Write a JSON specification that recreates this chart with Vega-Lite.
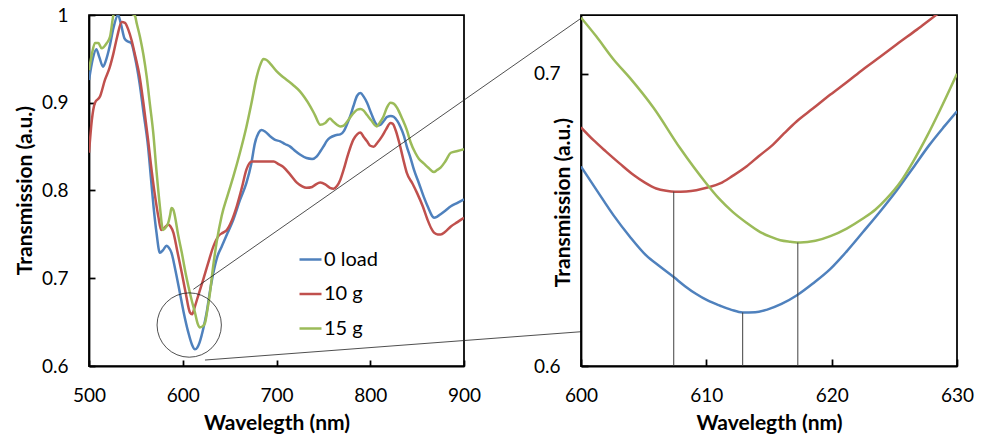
{
  "$schema": "https://vega.github.io/schema/vega-lite/v6.json",
  "background": "white",
  "padding": {"left": 13, "top": 5, "right": 5, "bottom": 5},
  "bounds": "flush",
  "spacing": 117,
  "config": {
    "view": {"stroke": "black", "strokeWidth": 1.75},
    "axis": {
      "grid": false,
      "domainColor": "black",
      "domainWidth": 1.75,
      "tickColor": "black",
      "tickWidth": 1.75,
      "labelFont": "Lato",
      "labelFontSize": 19,
      "labelColor": "black",
      "labelFlush": false,
      "labelOverlap": false,
      "labelBound": false,
      "titleFont": "Lato",
      "titleFontSize": 21,
      "titleFontWeight": "bold",
      "titleColor": "black"
    }
  },
  "resolve": {"legend": {"color": "independent"}},
  "datasets": {
    "full": [
      {"series":"0 load","wl":500,"t":0.926},{"series":"0 load","wl":504,"t":0.95},{"series":"0 load","wl":507.8,"t":0.961},{"series":"0 load","wl":511,"t":0.952},{"series":"0 load","wl":515,"t":0.941},{"series":"0 load","wl":518,"t":0.948},{"series":"0 load","wl":522,"t":0.964},{"series":"0 load","wl":526,"t":0.985},{"series":"0 load","wl":531,"t":1.0},{"series":"0 load","wl":534,"t":0.99},{"series":"0 load","wl":538,"t":0.973},{"series":"0 load","wl":541,"t":0.97},{"series":"0 load","wl":545,"t":0.968},{"series":"0 load","wl":549,"t":0.952},{"series":"0 load","wl":554,"t":0.922},{"series":"0 load","wl":558,"t":0.89},{"series":"0 load","wl":563,"t":0.85},{"series":"0 load","wl":566,"t":0.815},{"series":"0 load","wl":569,"t":0.78},{"series":"0 load","wl":572,"t":0.752},{"series":"0 load","wl":575.6,"t":0.729},{"series":"0 load","wl":579,"t":0.732},{"series":"0 load","wl":582.7,"t":0.737},{"series":"0 load","wl":585,"t":0.735},{"series":"0 load","wl":588,"t":0.729},{"series":"0 load","wl":592,"t":0.71},{"series":"0 load","wl":597,"t":0.683},{"series":"0 load","wl":601,"t":0.661},{"series":"0 load","wl":606,"t":0.638},{"series":"0 load","wl":610,"t":0.624},{"series":"0 load","wl":613,"t":0.619},{"series":"0 load","wl":615.5,"t":0.621},{"series":"0 load","wl":618,"t":0.627},{"series":"0 load","wl":622,"t":0.643},{"series":"0 load","wl":625.5,"t":0.661},{"series":"0 load","wl":629,"t":0.685},{"series":"0 load","wl":632.6,"t":0.706},{"series":"0 load","wl":637,"t":0.725},{"series":"0 load","wl":641.5,"t":0.736},{"series":"0 load","wl":648,"t":0.752},{"series":"0 load","wl":654,"t":0.767},{"series":"0 load","wl":661,"t":0.789},{"series":"0 load","wl":668,"t":0.809},{"series":"0 load","wl":673,"t":0.83},{"series":"0 load","wl":677,"t":0.854},{"series":"0 load","wl":681,"t":0.866},{"series":"0 load","wl":684,"t":0.869},{"series":"0 load","wl":688,"t":0.867},{"series":"0 load","wl":693,"t":0.862},{"series":"0 load","wl":698,"t":0.858},{"series":"0 load","wl":704,"t":0.856},{"series":"0 load","wl":709,"t":0.853},{"series":"0 load","wl":714.6,"t":0.85},{"series":"0 load","wl":720,"t":0.845},{"series":"0 load","wl":725,"t":0.841},{"series":"0 load","wl":732,"t":0.837},{"series":"0 load","wl":738,"t":0.836},{"series":"0 load","wl":743,"t":0.839},{"series":"0 load","wl":747,"t":0.845},{"series":"0 load","wl":750,"t":0.85},{"series":"0 load","wl":754,"t":0.857},{"series":"0 load","wl":757,"t":0.86},{"series":"0 load","wl":763,"t":0.863},{"series":"0 load","wl":768,"t":0.864},{"series":"0 load","wl":772,"t":0.868},{"series":"0 load","wl":775,"t":0.875},{"series":"0 load","wl":779,"t":0.886},{"series":"0 load","wl":782,"t":0.896},{"series":"0 load","wl":786,"t":0.908},{"series":"0 load","wl":789.5,"t":0.911},{"series":"0 load","wl":793,"t":0.907},{"series":"0 load","wl":796.6,"t":0.9},{"series":"0 load","wl":801,"t":0.888},{"series":"0 load","wl":805.5,"t":0.877},{"series":"0 load","wl":808,"t":0.874},{"series":"0 load","wl":811,"t":0.875},{"series":"0 load","wl":815,"t":0.88},{"series":"0 load","wl":818,"t":0.884},{"series":"0 load","wl":822,"t":0.885},{"series":"0 load","wl":825,"t":0.884},{"series":"0 load","wl":829,"t":0.879},{"series":"0 load","wl":832,"t":0.873},{"series":"0 load","wl":836,"t":0.862},{"series":"0 load","wl":839,"t":0.85},{"series":"0 load","wl":843,"t":0.837},{"series":"0 load","wl":846.5,"t":0.824},{"series":"0 load","wl":852,"t":0.808},{"series":"0 load","wl":857,"t":0.793},{"series":"0 load","wl":862,"t":0.78},{"series":"0 load","wl":866,"t":0.771},{"series":"0 load","wl":868,"t":0.769},{"series":"0 load","wl":871,"t":0.77},{"series":"0 load","wl":875,"t":0.773},{"series":"0 load","wl":880,"t":0.777},{"series":"0 load","wl":886,"t":0.782},{"series":"0 load","wl":893,"t":0.786},{"series":"0 load","wl":900,"t":0.79},
      {"series":"10 g","wl":500,"t":0.843},{"series":"10 g","wl":503,"t":0.88},{"series":"10 g","wl":506.4,"t":0.9},{"series":"10 g","wl":511.7,"t":0.907},{"series":"10 g","wl":517,"t":0.926},{"series":"10 g","wl":522,"t":0.94},{"series":"10 g","wl":526,"t":0.956},{"series":"10 g","wl":530,"t":0.975},{"series":"10 g","wl":534.9,"t":0.992},{"series":"10 g","wl":538.4,"t":0.991},{"series":"10 g","wl":542,"t":0.983},{"series":"10 g","wl":545.5,"t":0.971},{"series":"10 g","wl":549,"t":0.955},{"series":"10 g","wl":554,"t":0.93},{"series":"10 g","wl":558,"t":0.9},{"series":"10 g","wl":563,"t":0.858},{"series":"10 g","wl":566,"t":0.83},{"series":"10 g","wl":570,"t":0.797},{"series":"10 g","wl":574,"t":0.77},{"series":"10 g","wl":577,"t":0.755},{"series":"10 g","wl":580,"t":0.757},{"series":"10 g","wl":584.5,"t":0.761},{"series":"10 g","wl":587,"t":0.759},{"series":"10 g","wl":590,"t":0.752},{"series":"10 g","wl":594,"t":0.732},{"series":"10 g","wl":599,"t":0.706},{"series":"10 g","wl":603,"t":0.684},{"series":"10 g","wl":607.7,"t":0.661},{"series":"10 g","wl":610,"t":0.659},{"series":"10 g","wl":613,"t":0.668},{"series":"10 g","wl":617,"t":0.682},{"series":"10 g","wl":622,"t":0.699},{"series":"10 g","wl":627,"t":0.717},{"series":"10 g","wl":632.6,"t":0.736},{"series":"10 g","wl":638,"t":0.748},{"series":"10 g","wl":643,"t":0.752},{"series":"10 g","wl":647,"t":0.755},{"series":"10 g","wl":652,"t":0.765},{"series":"10 g","wl":657.6,"t":0.782},{"series":"10 g","wl":663,"t":0.803},{"series":"10 g","wl":668,"t":0.824},{"series":"10 g","wl":673.6,"t":0.833},{"series":"10 g","wl":685,"t":0.833},{"series":"10 g","wl":697,"t":0.833},{"series":"10 g","wl":702,"t":0.83},{"series":"10 g","wl":707,"t":0.827},{"series":"10 g","wl":714,"t":0.819},{"series":"10 g","wl":721.7,"t":0.809},{"series":"10 g","wl":727,"t":0.805},{"series":"10 g","wl":732,"t":0.803},{"series":"10 g","wl":738,"t":0.804},{"series":"10 g","wl":742,"t":0.807},{"series":"10 g","wl":746.7,"t":0.809},{"series":"10 g","wl":752,"t":0.807},{"series":"10 g","wl":757,"t":0.803},{"series":"10 g","wl":761,"t":0.802},{"series":"10 g","wl":764.5,"t":0.805},{"series":"10 g","wl":768,"t":0.812},{"series":"10 g","wl":771.7,"t":0.824},{"series":"10 g","wl":776,"t":0.84},{"series":"10 g","wl":782,"t":0.858},{"series":"10 g","wl":786,"t":0.864},{"series":"10 g","wl":789.5,"t":0.866},{"series":"10 g","wl":793,"t":0.861},{"series":"10 g","wl":796.6,"t":0.856},{"series":"10 g","wl":800,"t":0.851},{"series":"10 g","wl":803.7,"t":0.85},{"series":"10 g","wl":808,"t":0.855},{"series":"10 g","wl":812.7,"t":0.862},{"series":"10 g","wl":817,"t":0.87},{"series":"10 g","wl":821.6,"t":0.877},{"series":"10 g","wl":824,"t":0.876},{"series":"10 g","wl":827,"t":0.869},{"series":"10 g","wl":832,"t":0.85},{"series":"10 g","wl":836,"t":0.832},{"series":"10 g","wl":839,"t":0.82},{"series":"10 g","wl":845,"t":0.808},{"series":"10 g","wl":850,"t":0.797},{"series":"10 g","wl":856,"t":0.782},{"series":"10 g","wl":861,"t":0.767},{"series":"10 g","wl":865,"t":0.757},{"series":"10 g","wl":868,"t":0.752},{"series":"10 g","wl":872,"t":0.75},{"series":"10 g","wl":875,"t":0.75},{"series":"10 g","wl":880,"t":0.753},{"series":"10 g","wl":886,"t":0.759},{"series":"10 g","wl":893,"t":0.764},{"series":"10 g","wl":900,"t":0.769},
      {"series":"15 g","wl":500,"t":0.937},{"series":"15 g","wl":503,"t":0.955},{"series":"15 g","wl":506.4,"t":0.968},{"series":"15 g","wl":510,"t":0.968},{"series":"15 g","wl":513.5,"t":0.962},{"series":"15 g","wl":518.9,"t":0.968},{"series":"15 g","wl":522.4,"t":0.975},{"series":"15 g","wl":526,"t":1.0},{"series":"15 g","wl":530,"t":1.012},{"series":"15 g","wl":536,"t":1.018},{"series":"15 g","wl":542,"t":1.005},{"series":"15 g","wl":546,"t":1.001},{"series":"15 g","wl":549,"t":0.999},{"series":"15 g","wl":551,"t":0.99},{"series":"15 g","wl":554.4,"t":0.975},{"series":"15 g","wl":558,"t":0.955},{"series":"15 g","wl":561.5,"t":0.93},{"series":"15 g","wl":565,"t":0.898},{"series":"15 g","wl":568.6,"t":0.865},{"series":"15 g","wl":572,"t":0.822},{"series":"15 g","wl":575.6,"t":0.782},{"series":"15 g","wl":579,"t":0.755},{"series":"15 g","wl":582,"t":0.758},{"series":"15 g","wl":584.5,"t":0.763},{"series":"15 g","wl":586.5,"t":0.772},{"series":"15 g","wl":588,"t":0.78},{"series":"15 g","wl":590,"t":0.778},{"series":"15 g","wl":591.6,"t":0.771},{"series":"15 g","wl":595,"t":0.75},{"series":"15 g","wl":599,"t":0.729},{"series":"15 g","wl":603,"t":0.706},{"series":"15 g","wl":606,"t":0.691},{"series":"15 g","wl":610,"t":0.673},{"series":"15 g","wl":613,"t":0.661},{"series":"15 g","wl":616,"t":0.648},{"series":"15 g","wl":618,"t":0.644},{"series":"15 g","wl":621,"t":0.645},{"series":"15 g","wl":623.7,"t":0.649},{"series":"15 g","wl":626,"t":0.662},{"series":"15 g","wl":629,"t":0.683},{"series":"15 g","wl":632,"t":0.71},{"series":"15 g","wl":636,"t":0.74},{"series":"15 g","wl":641.5,"t":0.771},{"series":"15 g","wl":648,"t":0.795},{"series":"15 g","wl":654,"t":0.816},{"series":"15 g","wl":661,"t":0.843},{"series":"15 g","wl":668,"t":0.873},{"series":"15 g","wl":673,"t":0.898},{"series":"15 g","wl":679,"t":0.93},{"series":"15 g","wl":683,"t":0.944},{"series":"15 g","wl":686,"t":0.95},{"series":"15 g","wl":689,"t":0.949},{"series":"15 g","wl":693,"t":0.945},{"series":"15 g","wl":700,"t":0.936},{"series":"15 g","wl":705,"t":0.931},{"series":"15 g","wl":711,"t":0.926},{"series":"15 g","wl":718,"t":0.92},{"series":"15 g","wl":725,"t":0.913},{"series":"15 g","wl":730,"t":0.906},{"series":"15 g","wl":736,"t":0.896},{"series":"15 g","wl":741,"t":0.886},{"series":"15 g","wl":746.7,"t":0.875},{"series":"15 g","wl":752,"t":0.877},{"series":"15 g","wl":757,"t":0.882},{"series":"15 g","wl":760,"t":0.879},{"series":"15 g","wl":764.5,"t":0.875},{"series":"15 g","wl":768,"t":0.873},{"series":"15 g","wl":771.7,"t":0.874},{"series":"15 g","wl":777,"t":0.881},{"series":"15 g","wl":782,"t":0.888},{"series":"15 g","wl":786,"t":0.892},{"series":"15 g","wl":789.5,"t":0.893},{"series":"15 g","wl":793,"t":0.891},{"series":"15 g","wl":796.6,"t":0.886},{"series":"15 g","wl":801,"t":0.88},{"series":"15 g","wl":807,"t":0.873},{"series":"15 g","wl":810,"t":0.877},{"series":"15 g","wl":814,"t":0.884},{"series":"15 g","wl":818,"t":0.895},{"series":"15 g","wl":821.6,"t":0.9},{"series":"15 g","wl":825,"t":0.899},{"series":"15 g","wl":828.7,"t":0.894},{"series":"15 g","wl":834,"t":0.882},{"series":"15 g","wl":839,"t":0.869},{"series":"15 g","wl":843,"t":0.855},{"series":"15 g","wl":848,"t":0.843},{"series":"15 g","wl":852,"t":0.836},{"series":"15 g","wl":857,"t":0.831},{"series":"15 g","wl":862,"t":0.826},{"series":"15 g","wl":868,"t":0.821},{"series":"15 g","wl":871,"t":0.823},{"series":"15 g","wl":875,"t":0.826},{"series":"15 g","wl":880,"t":0.833},{"series":"15 g","wl":886,"t":0.843},{"series":"15 g","wl":893,"t":0.845},{"series":"15 g","wl":900,"t":0.847}
    ],
    "zoom": [
      {"series":"0 load","wl":600,"t":0.6682},{"series":"0 load","wl":601.3,"t":0.6598},{"series":"0 load","wl":602.6,"t":0.6515},{"series":"0 load","wl":603.9,"t":0.6442},{"series":"0 load","wl":605.2,"t":0.6378},{"series":"0 load","wl":606.3,"t":0.634},{"series":"0 load","wl":607.4,"t":0.6304},{"series":"0 load","wl":608.3,"t":0.6273},{"series":"0 load","wl":609.2,"t":0.6246},{"series":"0 load","wl":610.1,"t":0.6224},{"series":"0 load","wl":611.1,"t":0.6206},{"series":"0 load","wl":612,"t":0.6192},{"series":"0 load","wl":612.9,"t":0.6183},{"series":"0 load","wl":613.9,"t":0.6184},{"series":"0 load","wl":614.8,"t":0.6192},{"series":"0 load","wl":616,"t":0.6212},{"series":"0 load","wl":617.2,"t":0.6241},{"series":"0 load","wl":618.5,"t":0.6282},{"series":"0 load","wl":619.9,"t":0.6332},{"series":"0 load","wl":621.2,"t":0.6392},{"series":"0 load","wl":622.5,"t":0.6458},{"series":"0 load","wl":623.9,"t":0.653},{"series":"0 load","wl":625.2,"t":0.6601},{"series":"0 load","wl":626.5,"t":0.6678},{"series":"0 load","wl":627.8,"t":0.6756},{"series":"0 load","wl":629,"t":0.682},{"series":"0 load","wl":630,"t":0.6871},
      {"series":"10 g","wl":600,"t":0.6816},{"series":"10 g","wl":601,"t":0.6772},{"series":"10 g","wl":602,"t":0.6733},{"series":"10 g","wl":603.1,"t":0.6692},{"series":"10 g","wl":604.2,"t":0.6653},{"series":"10 g","wl":605.1,"t":0.6627},{"series":"10 g","wl":606,"t":0.6607},{"series":"10 g","wl":606.8,"t":0.6599},{"series":"10 g","wl":607.5,"t":0.6596},{"series":"10 g","wl":608.4,"t":0.6597},{"series":"10 g","wl":609.2,"t":0.6601},{"series":"10 g","wl":610.1,"t":0.661},{"series":"10 g","wl":611.1,"t":0.6624},{"series":"10 g","wl":612.1,"t":0.665},{"series":"10 g","wl":613.2,"t":0.6682},{"series":"10 g","wl":614.2,"t":0.6718},{"series":"10 g","wl":615.3,"t":0.6756},{"series":"10 g","wl":616.2,"t":0.6795},{"series":"10 g","wl":617.2,"t":0.6836},{"series":"10 g","wl":618.5,"t":0.688},{"series":"10 g","wl":619.9,"t":0.6928},{"series":"10 g","wl":621.2,"t":0.697},{"series":"10 g","wl":622.5,"t":0.7014},{"series":"10 g","wl":623.9,"t":0.7058},{"series":"10 g","wl":625.2,"t":0.71},{"series":"10 g","wl":626.8,"t":0.715},{"series":"10 g","wl":628.5,"t":0.7205},{"series":"10 g","wl":630,"t":0.725},
      {"series":"15 g","wl":600,"t":0.7191},{"series":"15 g","wl":601.2,"t":0.7128},{"series":"15 g","wl":602.6,"t":0.7048},{"series":"15 g","wl":603.9,"t":0.6985},{"series":"15 g","wl":605.8,"t":0.6882},{"series":"15 g","wl":607.9,"t":0.6745},{"series":"15 g","wl":610,"t":0.6624},{"series":"15 g","wl":611,"t":0.6573},{"series":"15 g","wl":612.1,"t":0.6527},{"series":"15 g","wl":613.2,"t":0.649},{"series":"15 g","wl":614.3,"t":0.6458},{"series":"15 g","wl":615.1,"t":0.6442},{"series":"15 g","wl":615.9,"t":0.643},{"series":"15 g","wl":616.7,"t":0.6425},{"series":"15 g","wl":617.5,"t":0.6422},{"series":"15 g","wl":618.7,"t":0.6428},{"series":"15 g","wl":619.9,"t":0.6444},{"series":"15 g","wl":621.2,"t":0.647},{"series":"15 g","wl":622.5,"t":0.6504},{"series":"15 g","wl":623.5,"t":0.6535},{"series":"15 g","wl":624.4,"t":0.6573},{"series":"15 g","wl":625.5,"t":0.663},{"series":"15 g","wl":626.5,"t":0.6699},{"series":"15 g","wl":627.6,"t":0.6785},{"series":"15 g","wl":628.6,"t":0.6871},{"series":"15 g","wl":630,"t":0.6999}
    ],
    "drops": [
      {"series":"10 g","wl":607.4,"t":0.6596},
      {"series":"0 load","wl":612.9,"t":0.6183},
      {"series":"15 g","wl":617.3,"t":0.6422}
    ],
    "circle": [{"wl":606.9,"t":0.6467}],
    "connectors": [
      {"id":"upper","wl":611.3,"t":0.6874},{"id":"upper","wl":1025.3,"t":0.9966},
      {"id":"lower","wl":623.7,"t":0.6068},{"id":"lower","wl":1025.3,"t":0.6391}
    ]
  },
  "hconcat": [
    {
      "width": 375,
      "height": 351,
      "encoding": {
        "x": {
          "field": "wl", "type": "quantitative",
          "scale": {"domain": [500, 900], "nice": false, "zero": false},
          "axis": {"title": "Wavelegth (nm)", "values": [500, 600, 700, 800, 900], "tickSize": -6, "labelPadding": 26, "titleY": 57, "titleBaseline": "middle"}
        },
        "y": {
          "field": "t", "type": "quantitative",
          "scale": {"domain": [0.6, 1], "nice": false, "zero": false},
          "axis": {"title": "Transmission (a.u.)", "values": [0.6, 0.7, 0.8, 0.9, 1], "format": ".1~f", "tickSize": -6, "labelPadding": 27, "titleX": -64, "titleY": 175, "titleBaseline": "middle"}
        }
      },
      "layer": [
        {
          "data": {"name": "full"},
          "mark": {"type": "line", "clip": true, "strokeWidth": 2.5, "interpolate": "monotone"},
          "encoding": {
            "color": {
              "field": "series", "type": "nominal",
              "scale": {"domain": ["0 load", "10 g", "15 g"], "range": ["#4F81BD", "#C0504D", "#9BBB59"]},
              "legend": {
                "orient": "none", "legendX": 209, "legendY": 232, "title": null,
                "symbolType": "stroke", "symbolSize": 484, "symbolStrokeWidth": 2.5,
                "labelFont": "Lato", "labelFontSize": 20, "labelColor": "black",
                "labelOffset": 1, "rowPadding": 11.5, "padding": 0
              }
            }
          }
        },
        {
          "data": {"name": "circle"},
          "mark": {"type": "point", "shape": "circle", "filled": false, "size": 4140, "stroke": "#222222", "strokeWidth": 0.8, "opacity": 1, "clip": false}
        },
        {
          "data": {"name": "connectors"},
          "mark": {"type": "line", "stroke": "#222222", "strokeWidth": 0.8, "clip": false},
          "encoding": {"detail": {"field": "id", "type": "nominal"}}
        }
      ]
    },
    {
      "width": 376,
      "height": 351,
      "encoding": {
        "x": {
          "field": "wl", "type": "quantitative",
          "scale": {"domain": [600, 630], "nice": false, "zero": false},
          "axis": {"title": "Wavelegth (nm)", "values": [600, 610, 620, 630], "tickSize": -7, "labelPadding": 27, "titleY": 57, "titleBaseline": "middle"}
        },
        "y": {
          "field": "t", "type": "quantitative",
          "scale": {"domain": [0.6, 0.72], "nice": false, "zero": false},
          "axis": {"title": "Transmission (a.u.)", "values": [0.6, 0.7], "format": ".1~f", "tickSize": -7, "labelPadding": 28, "titleX": -18, "titleY": 187, "titleBaseline": "middle"}
        }
      },
      "layer": [
        {
          "data": {"name": "zoom"},
          "mark": {"type": "line", "clip": true, "strokeWidth": 2.5, "interpolate": "monotone"},
          "encoding": {
            "color": {"field": "series", "type": "nominal", "scale": {"domain": ["0 load", "10 g", "15 g"], "range": ["#4F81BD", "#C0504D", "#9BBB59"]}, "legend": null}
          }
        },
        {
          "data": {"name": "drops"},
          "mark": {"type": "rule", "color": "#404040", "strokeWidth": 1},
          "encoding": {"y2": {"datum": 0.6}}
        }
      ]
    }
  ]
}
